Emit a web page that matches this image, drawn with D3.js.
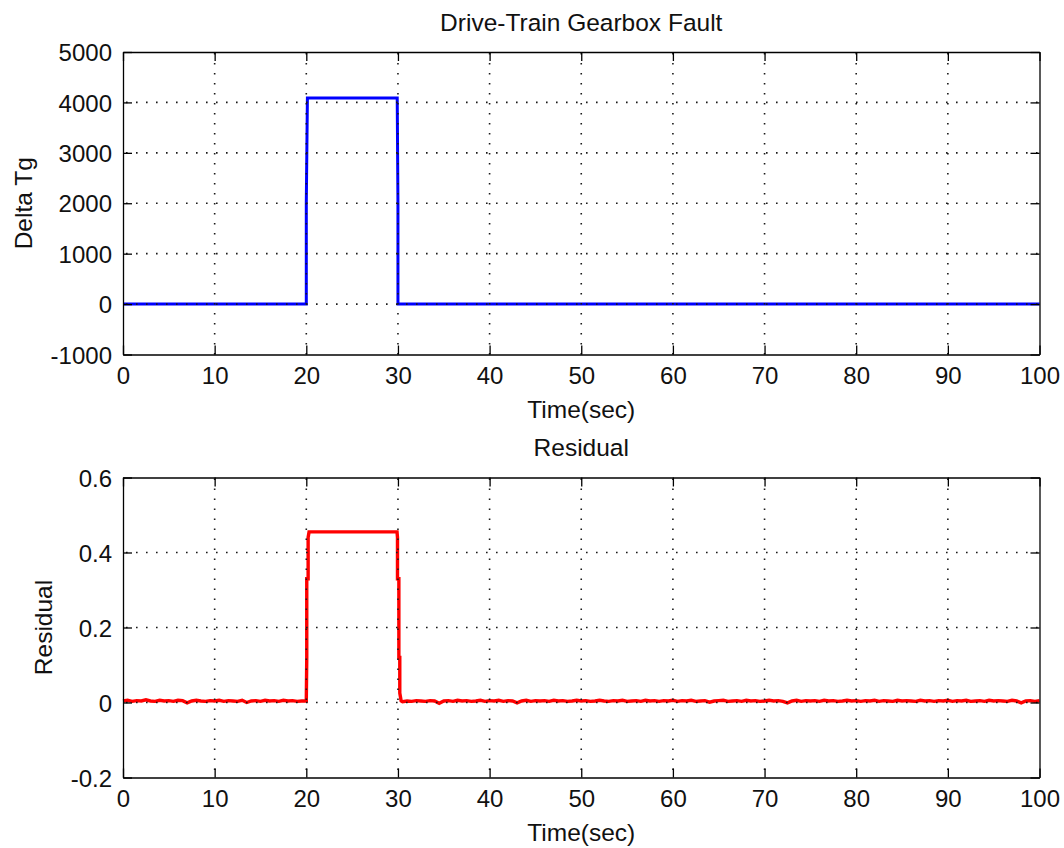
<!DOCTYPE html>
<html>
<head>
<meta charset="utf-8">
<script src="https://cdn.jsdelivr.net/npm/d3@7"></script>
<style>
  html, body { margin: 0; padding: 0; background: #fff; }
  svg { display: block; }
  text { font-family: "Liberation Sans", Arial, Helvetica, sans-serif; fill: #111; }
</style>
</head>
<body>
<svg id="chart" width="1064" height="848"></svg>
<script>
// ---------------- DATA ----------------
const xTicks = [0, 10, 20, 30, 40, 50, 60, 70, 80, 90, 100];
const topYTicks = [-1000, 0, 1000, 2000, 3000, 4000, 5000];
const bottomYTicks = [-0.2, 0, 0.2, 0.4, 0.6];

// Delta Tg (top panel)
const deltaTime  = [0, 20, 20,   20.12, 29.92, 30,   30, 100];
const deltaValue = [0, 0,  2000, 4090,  4090,  2000, 0,  0];

// Residual (bottom panel): baseline samples every 0.5 s
const sampleStep = 0.5;
const preFaultStart = 0;
const preFaultResidual = [
  0.004,0.006,0.003,0.005,0.004,0.007,0.004,0.003,0.006,0.004,
  0.005,0.003,0.006,0.005,-0.001,0.004,0.006,0.004,0.003,0.005,
  0.004,0.006,0.003,0.005,0.004,0.003,0.006,0.000,0.004,0.005,
  0.003,0.006,0.004,0.005,0.003,0.006,0.004,0.005,0.003,0.004
];
const faultTime     = [20.0, 20.05, 20.05, 20.2, 20.2, 20.3, 29.9, 29.95, 29.95, 30.1, 30.1, 30.2, 30.2, 30.35];
const faultResidual = [0.004, 0.12, 0.33, 0.33, 0.44, 0.455, 0.455, 0.44, 0.33, 0.33, 0.12, 0.12, 0.025, 0.004];
const postFaultStart = 30.5;
const postFaultResidual = [
  0.002,0.004,0.003,0.005,0.004,0.003,0.005,0.004,-0.002,0.004,
  0.005,0.003,0.006,0.004,0.005,0.003,0.004,0.006,0.003,0.005,
  0.004,0.006,0.003,0.005,0.004,-0.001,0.004,0.006,0.003,0.005,
  0.004,0.005,0.003,0.006,0.004,0.005,0.003,0.004,0.006,0.004,
  0.005,0.003,0.004,0.006,0.004,0.003,0.005,0.004,0.006,0.003,
  0.004,0.005,0.003,0.006,0.004,0.005,0.003,0.005,0.004,0.006,
  0.003,0.005,0.004,0.006,0.003,0.004,0.005,0.001,0.004,0.005,
  0.006,0.003,0.004,0.005,0.003,0.006,0.004,0.005,0.003,0.004,
  0.006,0.004,0.005,0.003,-0.001,0.004,0.006,0.003,0.005,0.004,
  0.005,0.003,0.006,0.004,0.005,0.003,0.004,0.006,0.004,0.005,
  0.003,0.005,0.004,0.006,0.003,0.005,0.004,0.003,0.006,0.004,
  0.005,0.004,0.003,0.006,0.004,0.005,0.003,0.005,0.004,0.006,
  0.003,0.005,0.004,0.006,0.003,0.004,0.005,0.003,0.006,0.004,
  0.005,0.004,0.003,0.006,0.004,-0.001,0.004,0.005,0.003,0.005
];

// ---------------- BUILD SERIES ----------------
const deltaSeries = deltaTime.map((t, i) => [t, deltaValue[i]]);
const residualSeries = [
  ...preFaultResidual.map((v, i) => [preFaultStart + i * sampleStep, v]),
  ...faultTime.map((t, i) => [t, faultResidual[i]]),
  ...postFaultResidual.map((v, i) => [postFaultStart + i * sampleStep, v])
];

// ---------------- LAYOUT ----------------
const svg = d3.select("#chart");
const left = 123, right = 1039.5;

const panels = [
  {
    top: 52, bottom: 354.5, domain: [-1000, 5000], yTicks: topYTicks,
    title: "Drive-Train Gearbox Fault", ylabel: "Delta Tg",
    ylabelX: 31.5, series: deltaSeries, color: "#0000ff", width: 3
  },
  {
    top: 477.5, bottom: 777.5, domain: [-0.2, 0.6], yTicks: bottomYTicks,
    title: "Residual", ylabel: "Residual",
    ylabelX: 51.5, series: residualSeries, color: "#ff0000", width: 3.4
  }
];

const tickLen = 9;

panels.forEach(p => {
  const x = d3.scaleLinear().domain([0, 100]).range([left, right]);
  const y = d3.scaleLinear().domain(p.domain).range([p.bottom, p.top]);
  const g = svg.append("g");

  // background
  g.append("rect").attr("x", left).attr("y", p.top)
    .attr("width", right - left).attr("height", p.bottom - p.top).attr("fill", "#fff");

  // data line
  g.append("path").datum(p.series)
    .attr("fill", "none").attr("stroke", p.color).attr("stroke-width", p.width)
    .attr("stroke-linejoin", "miter")
    .attr("d", d3.line().x(d => x(d[0])).y(d => y(d[1])));

  // grid (dotted), drawn above the line
  const grid = g.append("g").attr("stroke", "#1a1a1a").attr("stroke-width", 1.6)
    .attr("stroke-dasharray", "1.6 8.4");
  xTicks.filter(t => t > 0 && t < 100).forEach(t => {
    grid.append("line").attr("x1", x(t)).attr("x2", x(t))
      .attr("y1", p.top + 1).attr("y2", p.bottom);
  });
  p.yTicks.filter(t => t > p.domain[0] && t < p.domain[1]).forEach(t => {
    grid.append("line").attr("x1", left + 3).attr("x2", right)
      .attr("y1", y(t)).attr("y2", y(t));
  });

  // axes via d3 axes (inward ticks), plus mirrored top/right
  const axB = d3.axisBottom(x).tickValues(xTicks).tickSizeInner(-tickLen).tickSizeOuter(0).tickFormat(d => String(d));
  const axT = d3.axisTop(x).tickValues(xTicks).tickSizeInner(-tickLen).tickSizeOuter(0).tickFormat("");
  const axL = d3.axisLeft(y).tickValues(p.yTicks).tickSizeInner(-tickLen).tickSizeOuter(0).tickFormat(d => String(d));
  const axR = d3.axisRight(y).tickValues(p.yTicks).tickSizeInner(-tickLen).tickSizeOuter(0).tickFormat("");

  const gb = g.append("g").attr("transform", `translate(0,${p.bottom})`).call(axB);
  const gt = g.append("g").attr("transform", `translate(0,${p.top})`).call(axT);
  const gl = g.append("g").attr("transform", `translate(${left},0)`).call(axL);
  const gr = g.append("g").attr("transform", `translate(${right},0)`).call(axR);

  [gb, gt, gl, gr].forEach(a => {
    a.select(".domain").attr("stroke", "#000").attr("stroke-width", 1.3);
    a.selectAll(".tick line").attr("stroke", "#000").attr("stroke-width", 1.3);
    a.selectAll(".tick text").attr("fill", "#111")
      .style("font-family", '"Liberation Sans", Arial, sans-serif').style("font-size", "24px");
  });
  gb.selectAll(".tick text").attr("y", 29.5).attr("dy", null);
  gl.selectAll(".tick text").attr("x", -11).attr("dy", "0.36em");

  // title
  g.append("text").attr("x", (left + right) / 2).attr("y", p.top - 21.5)
    .attr("text-anchor", "middle").style("font-size", "24.5px").text(p.title);
  // x label
  g.append("text").attr("x", (left + right) / 2).attr("y", p.bottom + 63)
    .attr("text-anchor", "middle").style("font-size", "24.5px").text("Time(sec)");
  // y label
  g.append("text")
    .attr("transform", `translate(${p.ylabelX},${(p.top + p.bottom) / 2}) rotate(-90)`)
    .attr("text-anchor", "middle").style("font-size", "24.5px").text(p.ylabel);
});
</script>
</body>
</html>
